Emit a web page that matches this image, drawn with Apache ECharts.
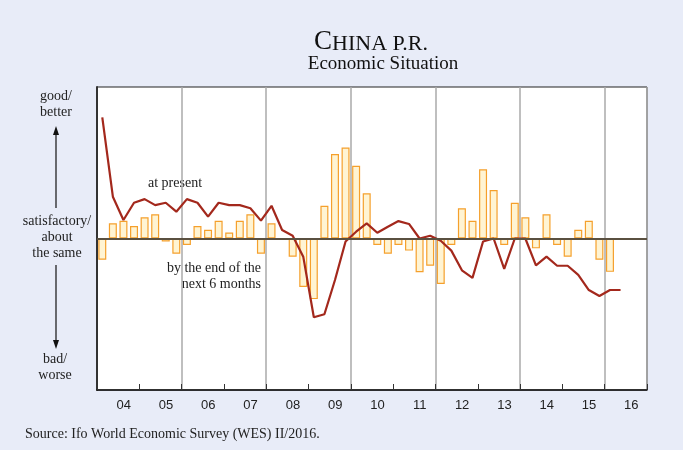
<!DOCTYPE html>
<html>
<head>
<meta charset="utf-8">
<script src="https://cdn.jsdelivr.net/npm/echarts@6/dist/echarts.min.js"></script>
<style>
  html, body { margin: 0; padding: 0; background: #e8ecf8; }
  #chart { width: 683px; height: 450px; }
</style>
</head>
<body>
<div id="chart"></div>
<script>
// year tick labels and the quarters they are split into
const yearLabels = ['04', '05', '06', '07', '08', '09', '10', '11', '12', '13', '14', '15', '16'];
const quarters = yearLabels.flatMap(y => ['Q1', 'Q2', 'Q3', 'Q4'].map(q => y + q));

// economic situation at present (line)
const atPresent = [
  80, 27.6, 12.2, 23.6,
  26, 22, 23.6, 17.7,
  26, 23.6, 14.4, 23.6,
  22, 22, 20, 11.8,
  21.6, 5.6, 1.8, -12,
  -52, -50, -27.4, -2,
  4.5, 10, 3.8, 7.8,
  11.5, 9.6, 0, 1.8,
  -1.5, -8, -21, -26,
  -2, 0, -20, 0,
  0, -17.7, -12, -18,
  -18, -24, -34, -38,
  -34, -34
];

// expectations by the end of the next 6 months (bars)
const next6Months = [
  -14, 10, 11.7, 8.2,
  14, 16, -2, -10,
  -4.3, 8.2, 5.8, 11.7,
  4, 11.7, 16, -10,
  10, 0, -12, -32,
  -40, 21.6, 55.8, 60,
  48, 29.8, -4.3, -10,
  -4.3, -8, -22.3, -18,
  -30, -4.3, 20, 11.7,
  45.7, 32, -4.3, 23.6,
  14, -6.5, 16, -4.3,
  -12, 5.8, 11.7, -14,
  -22
];

const serif = '"Liberation Serif", "DejaVu Serif", serif';
const sans = '"Liberation Sans", Arial, sans-serif';

const chart = echarts.init(document.getElementById('chart'));

const textEl = (text, x, y, opts = {}) => ({
  type: 'text',
  x: x,
  y: y,
  silent: true,
  style: Object.assign({
    text: text,
    fill: '#222',
    font: '14px ' + serif,
    align: 'center',
    verticalAlign: 'middle',
    lineHeight: 16
  }, opts)
});

const option = {
  backgroundColor: '#e8ecf8',
  animation: false,
  title: [
    {
      text: '{a|C}{b|HINA P.R.}',
      left: 366,
      top: 22,
      textAlign: 'center',
      textStyle: {
        fontWeight: 'normal',
        rich: {
          a: { fontFamily: serif, fontSize: 27, fontWeight: 'normal', color: '#111', lineHeight: 28, verticalAlign: 'bottom' },
          b: { fontFamily: serif, fontSize: 22, fontWeight: 'normal', color: '#111', lineHeight: 28, verticalAlign: 'bottom' }
        }
      }
    },
    {
      text: 'Economic Situation',
      left: 378,
      top: 50,
      textAlign: 'center',
      textStyle: { fontFamily: serif, fontSize: 19, fontWeight: 'normal', color: '#111' }
    }
  ],
  grid: {
    left: 97,
    right: 36,
    top: 87,
    bottom: 60,
    show: true,
    backgroundColor: '#fff',
    borderColor: '#222',
    borderWidth: 1
  },
  xAxis: [
    {
      type: 'category',
      data: quarters,
      boundaryGap: true,
      show: false
    },
    {
      type: 'category',
      data: yearLabels,
      boundaryGap: true,
      position: 'bottom',
      axisLine: { lineStyle: { color: '#111', width: 1.5 } },
      axisTick: { show: true, inside: true, length: 6, lineStyle: { color: '#333' } },
      axisLabel: {
        fontFamily: sans,
        fontSize: 13,
        color: '#222',
        margin: 9,
        padding: [0, 0, 0, 11]
      },
      splitLine: { show: true, interval: 1, lineStyle: { color: '#aaa', width: 1.5 } }
    }
  ],
  yAxis: {
    type: 'value',
    min: -100,
    max: 100,
    axisLine: { show: true, lineStyle: { color: '#333', width: 2 } },
    axisTick: { show: false },
    axisLabel: { show: false },
    splitLine: { show: false }
  },
  series: [
    {
      name: 'by the end of the next 6 months',
      type: 'bar',
      xAxisIndex: 0,
      data: next6Months,
      barWidth: 8,
      itemStyle: {
        color: '#fff4d3',
        borderColor: '#f5a02c',
        borderWidth: 1.2
      }
    },
    {
      name: 'at present',
      type: 'line',
      xAxisIndex: 0,
      data: atPresent,
      symbol: 'none',
      lineStyle: { color: '#a3281c', width: 2.2 },
      markLine: {
        silent: true,
        symbol: 'none',
        label: { show: false },
        lineStyle: { color: '#5a5040', width: 2, type: 'solid' },
        data: [{ yAxis: 0 }]
      },
      z: 3
    }
  ],
  graphic: [
    // left-hand scale description
    textEl('good/\nbetter', 56, 104),
    textEl('satisfactory/\nabout\nthe same', 57, 237),
    textEl('bad/\nworse', 55, 367),
    { type: 'line', silent: true, shape: { x1: 56, y1: 133, x2: 56, y2: 208 }, style: { stroke: '#111', lineWidth: 1.2 } },
    { type: 'polygon', silent: true, shape: { points: [[56, 126], [53, 135], [59, 135]] }, style: { fill: '#111' } },
    { type: 'line', silent: true, shape: { x1: 56, y1: 265, x2: 56, y2: 342 }, style: { stroke: '#111', lineWidth: 1.2 } },
    { type: 'polygon', silent: true, shape: { points: [[56, 349], [53, 340], [59, 340]] }, style: { fill: '#111' } },
    // series annotations
    textEl('at present', 175, 183),
    textEl('by the end of the\nnext 6 months', 261, 276, { align: 'right' }),
    // source line
    textEl('Source: Ifo World Economic Survey (WES) II/2016.', 25, 434, { align: 'left', font: '14px ' + serif })
  ]
};

chart.setOption(option);
</script>
</body>
</html>
